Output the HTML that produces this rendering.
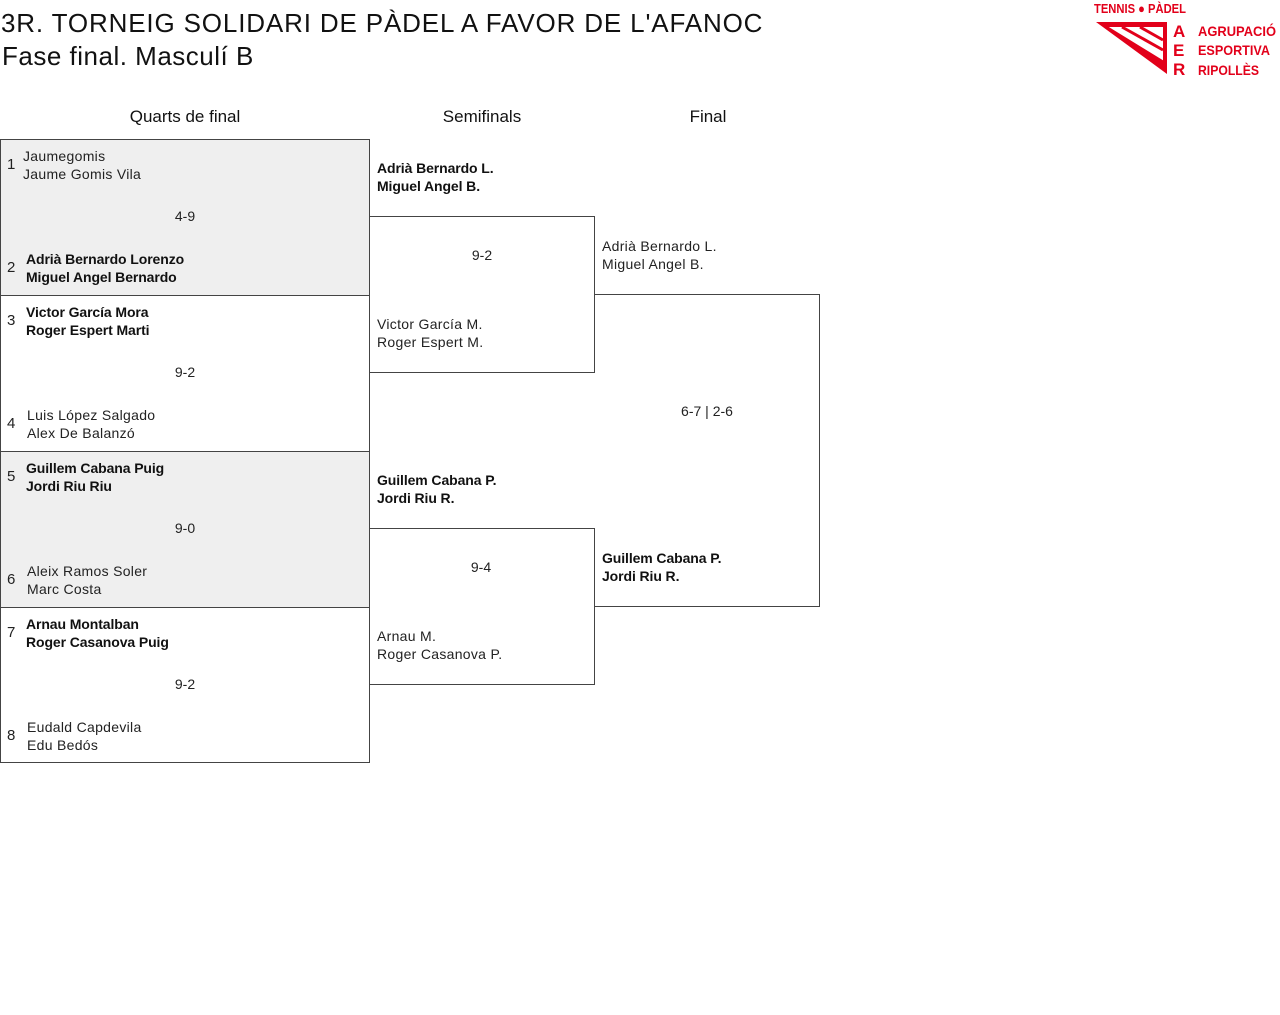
<!DOCTYPE html>
<html><head><meta charset="utf-8">
<style>
body{margin:0;width:1280px;height:1015px;background:#fff;position:relative;font-family:"Liberation Sans",sans-serif;color:#222;overflow:hidden}
.a{position:absolute;white-space:nowrap}
.t{font-size:14px;line-height:18px;letter-spacing:0.3px}
.b{font-weight:bold;letter-spacing:-0.1px;color:#111}
.box{position:absolute;box-sizing:border-box;border:1px solid #444}
.h{font-size:17px;text-align:center;width:200px;color:#111}
.n{font-size:15px}
.s{font-size:14px;width:100px;text-align:center}
</style></head><body>
<div class="a" style="left:1px;top:8px;font-size:26px;letter-spacing:0.85px;color:#111">3R. TORNEIG SOLIDARI DE PÀDEL A FAVOR DE L'AFANOC</div>
<div class="a" style="left:2px;top:41px;font-size:26px;letter-spacing:0.5px;color:#111">Fase final. Masculí B</div>

<svg class="a" style="left:1092px;top:0" width="188" height="80" viewBox="0 0 188 80">
<text x="2" y="13" font-family="Liberation Sans" font-weight="bold" font-size="13" fill="#e2001a" textLength="92" lengthAdjust="spacingAndGlyphs">TENNIS ● PÀDEL</text>
<polygon points="4,22 75,22 75,74" fill="#e2001a"/>
<polygon points="14,27 71,27 71,62" fill="#fff"/>
<line x1="14" y1="27" x2="71" y2="62" stroke="#e2001a" stroke-width="3"/>
<line x1="30" y1="27" x2="71" y2="50" stroke="#e2001a" stroke-width="3"/>
<line x1="48" y1="27" x2="71" y2="40" stroke="#e2001a" stroke-width="3"/>
<text x="81" y="37" font-family="Liberation Sans" font-weight="bold" font-size="17" fill="#e2001a">A</text>
<text x="81" y="56" font-family="Liberation Sans" font-weight="bold" font-size="17" fill="#e2001a">E</text>
<text x="81" y="75" font-family="Liberation Sans" font-weight="bold" font-size="17" fill="#e2001a">R</text>
<text x="106" y="36" font-family="Liberation Sans" font-weight="bold" font-size="14" fill="#e2001a" textLength="78" lengthAdjust="spacingAndGlyphs">AGRUPACIÓ</text>
<text x="106" y="55" font-family="Liberation Sans" font-weight="bold" font-size="14" fill="#e2001a" textLength="72" lengthAdjust="spacingAndGlyphs">ESPORTIVA</text>
<text x="106" y="75" font-family="Liberation Sans" font-weight="bold" font-size="14" fill="#e2001a" textLength="61" lengthAdjust="spacingAndGlyphs">RIPOLLÈS</text>
</svg>

<div class="a h" style="left:85px;top:107px">Quarts de final</div>
<div class="a h" style="left:382px;top:107px">Semifinals</div>
<div class="a h" style="left:608px;top:107px">Final</div>

<div class="box" style="left:0;top:139px;width:370px;height:157px;background:#efefef"></div>
<div class="box" style="left:0;top:295px;width:370px;height:157px"></div>
<div class="box" style="left:0;top:451px;width:370px;height:157px;background:#efefef"></div>
<div class="box" style="left:0;top:607px;width:370px;height:156px"></div>
<div class="box" style="left:369px;top:216px;width:226px;height:157px"></div>
<div class="box" style="left:369px;top:528px;width:226px;height:157px"></div>
<div class="box" style="left:594px;top:294px;width:226px;height:313px;border-left:none"></div>

<div class="a n" style="left:7px;top:156px">1</div>
<div class="a t" style="left:23px;top:147px">Jaumegomis<br>Jaume Gomis Vila</div>
<div class="a s" style="left:135px;top:208px">4-9</div>
<div class="a n" style="left:7px;top:259px">2</div>
<div class="a t b" style="left:26px;top:250px">Adrià Bernardo Lorenzo<br>Miguel Angel Bernardo</div>
<div class="a n" style="left:7px;top:312px">3</div>
<div class="a t b" style="left:26px;top:303px">Victor García Mora<br>Roger Espert Marti</div>
<div class="a s" style="left:135px;top:364px">9-2</div>
<div class="a n" style="left:7px;top:415px">4</div>
<div class="a t" style="left:27px;top:406px">Luis López Salgado<br>Alex De Balanzó</div>
<div class="a n" style="left:7px;top:468px">5</div>
<div class="a t b" style="left:26px;top:459px">Guillem Cabana Puig<br>Jordi Riu Riu</div>
<div class="a s" style="left:135px;top:520px">9-0</div>
<div class="a n" style="left:7px;top:571px">6</div>
<div class="a t" style="left:27px;top:562px">Aleix Ramos Soler<br>Marc Costa</div>
<div class="a n" style="left:7px;top:624px">7</div>
<div class="a t b" style="left:26px;top:615px">Arnau Montalban<br>Roger Casanova Puig</div>
<div class="a s" style="left:135px;top:676px">9-2</div>
<div class="a n" style="left:7px;top:727px">8</div>
<div class="a t" style="left:27px;top:718px">Eudald Capdevila<br>Edu Bedós</div>

<div class="a t b" style="left:377px;top:159px">Adrià Bernardo L.<br>Miguel Angel B.</div>
<div class="a s" style="left:432px;top:247px">9-2</div>
<div class="a t" style="left:377px;top:315px">Victor García M.<br>Roger Espert M.</div>
<div class="a t b" style="left:377px;top:471px">Guillem Cabana P.<br>Jordi Riu R.</div>
<div class="a s" style="left:431px;top:559px">9-4</div>
<div class="a t" style="left:377px;top:627px">Arnau M.<br>Roger Casanova P.</div>

<div class="a t" style="left:602px;top:237px">Adrià Bernardo L.<br>Miguel Angel B.</div>
<div class="a s" style="left:657px;top:403px">6-7 | 2-6</div>
<div class="a t b" style="left:602px;top:549px">Guillem Cabana P.<br>Jordi Riu R.</div>
</body></html>
